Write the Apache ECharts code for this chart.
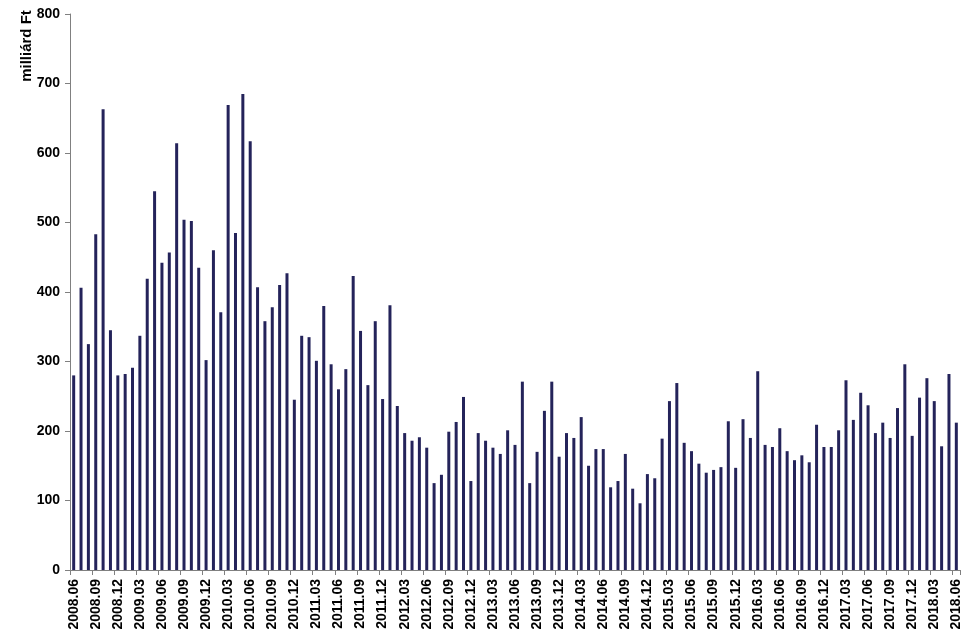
<!DOCTYPE html>
<html>
<head>
<meta charset="utf-8">
<script src="https://cdn.jsdelivr.net/npm/echarts@6/dist/echarts.min.js"></script>
<style>
html,body{margin:0;padding:0;background:#fff;}
#chart{width:975px;height:635px;}
</style>
</head>
<body>
<div id="chart"></div>
<script>
// Category labels (months)
var cat2008 = ['2008.06','2008.07','2008.08','2008.09','2008.10','2008.11','2008.12'];
var cat2009 = ['2009.01','2009.02','2009.03','2009.04','2009.05','2009.06','2009.07','2009.08','2009.09','2009.10','2009.11','2009.12'];
var cat2010 = ['2010.01','2010.02','2010.03','2010.04','2010.05','2010.06','2010.07','2010.08','2010.09','2010.10','2010.11','2010.12'];
var cat2011 = ['2011.01','2011.02','2011.03','2011.04','2011.05','2011.06','2011.07','2011.08','2011.09','2011.10','2011.11','2011.12'];
var cat2012 = ['2012.01','2012.02','2012.03','2012.04','2012.05','2012.06','2012.07','2012.08','2012.09','2012.10','2012.11','2012.12'];
var cat2013 = ['2013.01','2013.02','2013.03','2013.04','2013.05','2013.06','2013.07','2013.08','2013.09','2013.10','2013.11','2013.12'];
var cat2014 = ['2014.01','2014.02','2014.03','2014.04','2014.05','2014.06','2014.07','2014.08','2014.09','2014.10','2014.11','2014.12'];
var cat2015 = ['2015.01','2015.02','2015.03','2015.04','2015.05','2015.06','2015.07','2015.08','2015.09','2015.10','2015.11','2015.12'];
var cat2016 = ['2016.01','2016.02','2016.03','2016.04','2016.05','2016.06','2016.07','2016.08','2016.09','2016.10','2016.11','2016.12'];
var cat2017 = ['2017.01','2017.02','2017.03','2017.04','2017.05','2017.06','2017.07','2017.08','2017.09','2017.10','2017.11','2017.12'];
var cat2018 = ['2018.01','2018.02','2018.03','2018.04','2018.05','2018.06'];

// Values (milliárd Ft)
var val2008 = [280, 406, 325, 483, 663, 345, 280];
var val2009 = [282, 291, 337, 419, 545, 442, 457, 614, 504, 502, 435, 302];
var val2010 = [460, 371, 669, 485, 685, 617, 407, 358, 378, 410, 427, 245];
var val2011 = [337, 335, 301, 380, 296, 260, 289, 423, 344, 266, 358, 246];
var val2012 = [381, 236, 197, 186, 191, 176, 125, 137, 199, 213, 249, 128];
var val2013 = [197, 186, 176, 167, 201, 180, 271, 125, 170, 229, 271, 163];
var val2014 = [197, 190, 220, 150, 174, 174, 119, 128, 167, 117, 96, 138];
var val2015 = [132, 189, 243, 269, 183, 171, 153, 140, 144, 148, 214, 147];
var val2016 = [217, 190, 286, 180, 177, 204, 171, 158, 165, 155, 209, 177];
var val2017 = [177, 201, 273, 216, 255, 237, 197, 212, 190, 233, 296, 193];
var val2018 = [248, 276, 243, 178, 282, 212];

// Axis ticks
var yTicks = [0, 100, 200, 300, 400, 500, 600, 700, 800];
var yAxisTitle = 'milliárd Ft';

var categories = [].concat(cat2008, cat2009, cat2010, cat2011, cat2012, cat2013, cat2014, cat2015, cat2016, cat2017, cat2018);
var values = [].concat(val2008, val2009, val2010, val2011, val2012, val2013, val2014, val2015, val2016, val2017, val2018);

var chart = echarts.init(document.getElementById('chart'), null, {renderer: 'canvas'});
var labelFont = {color: '#000', fontFamily: 'Liberation Sans, Arial, sans-serif', fontWeight: 'bold', fontSize: 14};
chart.setOption({
  animation: false,
  backgroundColor: '#fff',
  grid: {left: 70, right: 15, top: 14, bottom: 65, containLabel: false},
  graphic: [{
    type: 'text',
    x: 27, y: 46,
    rotation: Math.PI / 2,
    style: {
      text: yAxisTitle,
      fill: '#000',
      font: 'bold 15px "Liberation Sans", Arial, sans-serif',
      align: 'center',
      verticalAlign: 'middle'
    }
  }],
  xAxis: {
    type: 'category',
    data: categories,
    boundaryGap: true,
    axisLine: {show: true, lineStyle: {color: '#808080', width: 1}},
    axisTick: {show: true, interval: 2, length: 5, lineStyle: {color: '#808080'}},
    axisLabel: Object.assign({interval: 2, rotate: 90, margin: 9}, labelFont),
    splitLine: {show: false}
  },
  yAxis: {
    type: 'value',
    min: yTicks[0],
    max: yTicks[yTicks.length - 1],
    interval: 100,
    axisLine: {show: true, lineStyle: {color: '#808080', width: 1}},
    axisTick: {show: true, length: 5, lineStyle: {color: '#808080'}},
    axisLabel: Object.assign({margin: 10}, labelFont),
    splitLine: {show: false}
  },
  series: [{
    type: 'bar',
    data: values,
    barWidth: 3,
    itemStyle: {color: '#24235A'}
  }]
});
</script>
</body>
</html>
